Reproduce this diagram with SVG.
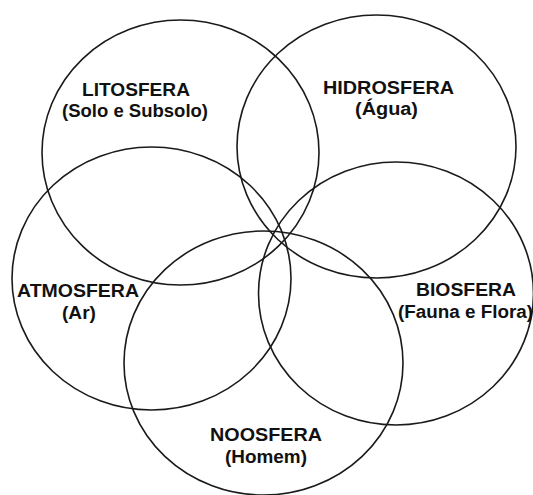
<svg xmlns="http://www.w3.org/2000/svg" width="533" height="495" viewBox="0 0 533 495">
<style>
.c{fill:none;stroke:#1a1a1a;stroke-width:1.6}
.t{font-family:"Liberation Sans",Arial,sans-serif;font-weight:bold;font-size:17.5px;fill:#111;text-anchor:middle}
</style>
<rect width="533" height="495" fill="#fff"/>
<g id="litosfera">
<ellipse class="c" cx="180.5" cy="152.5" rx="138.5" ry="132.5"/>
<text class="t" x="136" y="96" textLength="108" lengthAdjust="spacingAndGlyphs">LITOSFERA</text>
<text class="t" x="135" y="117" textLength="146" lengthAdjust="spacingAndGlyphs">(Solo e Subsolo)</text>
</g>
<g id="hidrosfera">
<ellipse class="c" cx="376.5" cy="146.5" rx="139.5" ry="131.5"/>
<text class="t" x="388.5" y="94" textLength="131" lengthAdjust="spacingAndGlyphs">HIDROSFERA</text>
<text class="t" x="386.5" y="115" textLength="63" lengthAdjust="spacingAndGlyphs">(Água)</text>
</g>
<g id="atmosfera">
<ellipse class="c" cx="151.5" cy="278.5" rx="139.5" ry="131.5"/>
<text class="t" x="78" y="297" textLength="122" lengthAdjust="spacingAndGlyphs">ATMOSFERA</text>
<text class="t" x="79" y="319" textLength="34" lengthAdjust="spacingAndGlyphs">(Ar)</text>
</g>
<g id="biosfera">
<ellipse class="c" cx="396" cy="293.5" rx="137.5" ry="131.5"/>
<text class="t" x="466" y="296" textLength="100" lengthAdjust="spacingAndGlyphs">BIOSFERA</text>
<text class="t" x="465.5" y="318" textLength="135" lengthAdjust="spacingAndGlyphs">(Fauna e Flora)</text>
</g>
<g id="noosfera">
<ellipse class="c" cx="263.5" cy="363" rx="139.5" ry="132"/>
<text class="t" x="266" y="441" textLength="112" lengthAdjust="spacingAndGlyphs">NOOSFERA</text>
<text class="t" x="266" y="463" textLength="82" lengthAdjust="spacingAndGlyphs">(Homem)</text>
</g>
<g id="connectors"></g>
</svg>
